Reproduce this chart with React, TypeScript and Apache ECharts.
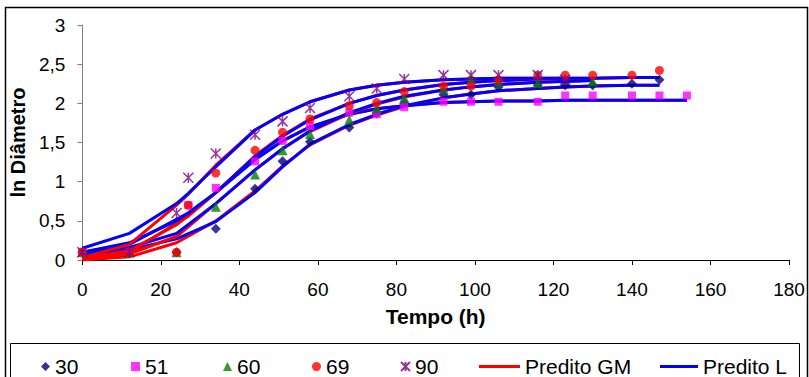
import React, { useEffect, useRef } from 'react';
import * as echarts from 'echarts';

// ---- data ----
const xTicks = [0, 20, 40, 60, 80, 100, 120, 140, 160, 180];
const yTicks = ['0', '0,5', '1', '1,5', '2', '2,5', '3'];

const t30 = [0, 12, 24, 34, 44, 51, 58, 68, 75, 82, 92, 99, 106, 116, 123, 130, 140, 147];
const obs30 = [0.1, 0.1, 0.1, 0.4, 0.91, 1.26, 1.51, 1.69, 1.87, 2.0, 2.11, 2.11, 2.21, 2.23, 2.23, 2.23, 2.25, 2.3];
const gm30 = [0.0, 0.04, 0.22, 0.5, 0.88, 1.2, 1.47, 1.72, 1.85, 1.96, 2.07, 2.12, 2.16, 2.19, 2.21, 2.22, 2.23, 2.23];
const l30 = [0.06, 0.13, 0.27, 0.49, 0.86, 1.19, 1.48, 1.73, 1.86, 1.97, 2.07, 2.12, 2.16, 2.19, 2.21, 2.22, 2.23, 2.23];

const t51 = [0, 12, 27, 34, 44, 51, 58, 68, 75, 82, 92, 99, 106, 116, 123, 130, 140, 147, 154];
const obs51 = [0.1, 0.1, 0.7, 0.92, 1.26, 1.52, 1.71, 1.88, 1.86, 1.95, 2.02, 2.02, 2.02, 2.02, 2.1, 2.1, 2.1, 2.1, 2.1];
const gm51 = [0.02, 0.1, 0.56, 0.86, 1.29, 1.52, 1.7, 1.86, 1.93, 1.97, 2.01, 2.02, 2.03, 2.03, 2.04, 2.04, 2.04, 2.04, 2.04];
const l51 = [0.1, 0.2, 0.6, 0.86, 1.28, 1.52, 1.7, 1.86, 1.93, 1.97, 2.01, 2.02, 2.03, 2.03, 2.04, 2.04, 2.04, 2.04, 2.04];

const t60 = [0, 12, 24, 34, 44, 51, 58, 68, 75, 82, 92, 99, 106, 116, 130];
const obs60 = [0.1, 0.1, 0.1, 0.68, 1.09, 1.4, 1.61, 1.79, 1.94, 2.07, 2.19, 2.3, 2.28, 2.26, 2.28];
const gm60 = [0.01, 0.08, 0.3, 0.72, 1.15, 1.42, 1.64, 1.87, 1.99, 2.08, 2.17, 2.21, 2.24, 2.27, 2.29];
const l60 = [0.08, 0.16, 0.34, 0.72, 1.15, 1.42, 1.65, 1.88, 2.0, 2.09, 2.17, 2.21, 2.24, 2.27, 2.29];

const t69 = [0, 12, 24, 27, 34, 44, 51, 58, 68, 75, 82, 92, 99, 106, 116, 123, 130, 140, 147];
const obs69 = [0.1, 0.1, 0.1, 0.7, 1.11, 1.4, 1.63, 1.8, 1.97, 2.01, 2.15, 2.22, 2.22, 2.3, 2.36, 2.36, 2.36, 2.36, 2.42];
const gm69 = [0.02, 0.12, 0.45, 0.57, 0.86, 1.33, 1.59, 1.8, 2.0, 2.1, 2.17, 2.24, 2.27, 2.29, 2.31, 2.32, 2.32, 2.33, 2.33];
const l69 = [0.1, 0.22, 0.5, 0.6, 0.86, 1.32, 1.58, 1.79, 2.0, 2.1, 2.17, 2.24, 2.27, 2.29, 2.31, 2.32, 2.32, 2.33, 2.33];

const t90 = [0, 12, 24, 27, 34, 44, 51, 58, 68, 75, 82, 92, 99, 106, 116, 123];
const obs90 = [0.1, 0.1, 0.6, 1.05, 1.36, 1.6, 1.77, 1.94, 2.09, 2.19, 2.31, 2.36, 2.36, 2.36, 2.36, 2.3];
const gm90 = [0.03, 0.2, 0.7, 0.84, 1.21, 1.66, 1.86, 2.02, 2.17, 2.23, 2.27, 2.3, 2.31, 2.32, 2.32, 2.32];
const l90 = [0.15, 0.34, 0.72, 0.85, 1.19, 1.66, 1.86, 2.02, 2.17, 2.23, 2.27, 2.3, 2.31, 2.32, 2.32, 2.32];

const groups = [
  { name: '30', t: t30, obs: obs30, gm: gm30, l: l30, symbol: 'diamond', size: 10, color: '#000080' },
  { name: '51', t: t51, obs: obs51, gm: gm51, l: l51, symbol: 'rect', size: 8, color: '#FF00FF' },
  { name: '60', t: t60, obs: obs60, gm: gm60, l: l60, symbol: 'triangle', size: 10, color: '#008000' },
  { name: '69', t: t69, obs: obs69, gm: gm69, l: l69, symbol: 'circle', size: 9, color: '#FF0000' },
  { name: '90', t: t90, obs: obs90, gm: gm90, l: l90, symbol: 'path://M0,0L10,10M10,0L0,10M5,0L5,10', size: 10, color: '#800080' },
];

const FONT = 'Liberation Sans, Arial, sans-serif';

export default function App() {
  const ref = useRef<HTMLDivElement>(null);
  useEffect(() => {
    document.body.style.margin = '0';
    const chart = echarts.init(ref.current!, null, { renderer: 'svg' });
    const pair = (t: number[], v: number[]) => t.map((x, i) => [x, v[i]]);
    const series: any[] = [];
    groups.forEach((g) => {
      series.push({
        name: 'Predito GM', type: 'line', data: pair(g.t, g.gm), symbol: 'none', showSymbol: false,
        lineStyle: { color: '#FF0000', width: 3 }, itemStyle: { color: '#FF0000' }, z: 2,
      });
      series.push({
        name: 'Predito L', type: 'line', data: pair(g.t, g.l), symbol: 'none', showSymbol: false,
        lineStyle: { color: '#0000FF', width: 3 }, itemStyle: { color: '#0000FF' }, z: 2,
      });
    });
    groups.forEach((g) => {
      const isStar = g.symbol.startsWith('path://');
      series.push({
        name: g.name, type: 'scatter', data: pair(g.t, g.obs), symbol: g.symbol, symbolSize: g.size,
        itemStyle: isStar
          ? { color: 'rgba(0,0,0,0)', borderColor: g.color, borderWidth: 1.5 }
          : { color: g.color },
        z: 5,
      });
    });
    const legendText = { fontFamily: FONT, fontSize: 21, color: '#000' };
    const legendPos: [string, number][] = [['30', 36], ['51', 126], ['60', 218], ['69', 307], ['90', 395]];
    const legends: any[] = legendPos.map(([n, left]) => ({
      data: [n], left, top: 351, itemWidth: 9, itemHeight: 9, itemTextGap: 20,
      textStyle: legendText, selectedMode: false,
    }));
    legends.push({
      data: [{ name: 'Predito GM', icon: 'rect', itemStyle: { color: '#FF0000' } }], left: 474, top: 351, itemWidth: 41, itemHeight: 3, itemTextGap: 6,
      textStyle: legendText, selectedMode: false,
    });
    legends.push({
      data: [{ name: 'Predito L', icon: 'rect', itemStyle: { color: '#0000FF' } }], left: 655, top: 351, itemWidth: 38, itemHeight: 3, itemTextGap: 6,
      textStyle: legendText, selectedMode: false,
    });
    chart.setOption({
      animation: false,
      backgroundColor: '#fff',
      grid: { left: 81, right: 20, top: 25, bottom: 117 },
      xAxis: {
        type: 'value', min: 0, max: 180, interval: 20,
        name: 'Tempo (h)', nameLocation: 'middle', nameGap: 46,
        nameTextStyle: { fontFamily: FONT, fontSize: 21, fontWeight: 'bold', color: '#000' },
        axisLine: { lineStyle: { color: '#000', width: 1 } },
        axisTick: { show: true, length: 5, lineStyle: { color: '#000' } },
        axisLabel: {
          fontFamily: FONT, fontSize: 19, color: '#000', margin: 20,
          formatter: (v: number) => String(xTicks[xTicks.indexOf(v)] ?? v),
        },
        splitLine: { show: false },
      },
      yAxis: {
        type: 'value', min: 0, max: 3, interval: 0.5,
        name: 'ln Diâmetro', nameLocation: 'middle', nameGap: 41, nameRotate: 90,
        nameTextStyle: { fontFamily: FONT, fontSize: 20, fontWeight: 'bold', color: '#000' },
        axisLine: { show: true, lineStyle: { color: '#808080', width: 1 } },
        axisTick: { show: true, length: 5, lineStyle: { color: '#808080' } },
        axisLabel: {
          fontFamily: FONT, fontSize: 19, color: '#000', margin: 17,
          formatter: (v: number) => yTicks[Math.round(v * 2)] ?? String(v),
        },
        splitLine: { show: false },
      },
      legend: legends,
      graphic: [
        { type: 'rect', shape: { x: 5.5, y: 7.5, width: 802, height: 375 }, style: { fill: 'none', stroke: '#000', lineWidth: 1.5 }, silent: true },
        { type: 'rect', shape: { x: 10.5, y: 343.5, width: 789, height: 40 }, style: { fill: 'none', stroke: '#000', lineWidth: 1 }, silent: true },
      ],
      series,
    });
    return () => chart.dispose();
  }, []);
  return <div ref={ref} style={{ width: 809, height: 377 }} />;
}
